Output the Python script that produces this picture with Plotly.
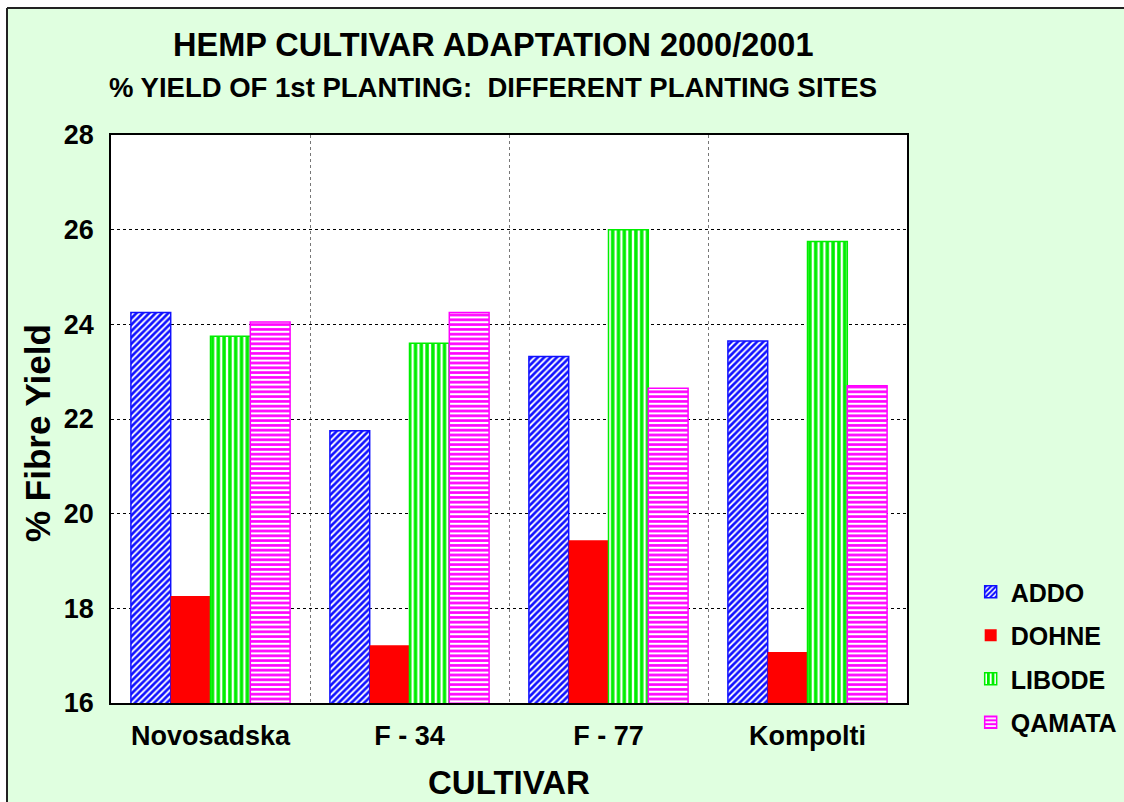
import plotly.graph_objects as go

cultivars = ["Novosadska", "F - 34", "F - 77", "Kompolti"]
addo = [24.25, 21.75, 23.32, 23.65]
dohne = [18.26, 17.22, 19.44, 17.08]
libode = [23.75, 23.60, 26.00, 25.75]
qamata = [24.05, 24.25, 22.65, 22.70]

y_ticks = [16, 18, 20, 22, 24, 26, 28]

FONT = "Liberation Sans, Arial, sans-serif"
BG = "#E0FFE0"

series = [
    ("ADDO", addo, "#1010FF", "/", 4.5, 0.6),
    ("DOHNE", dohne, "#FF0000", "", 6, 1.0),
    ("LIBODE", libode, "#00EE00", "|", 5.8, 0.6),
    ("QAMATA", qamata, "#FF00FF", "-", 4.8, 0.55),
]

fig = go.Figure()
for name, vals, col, shape, size, sol in series:
    if shape:
        marker = dict(color=col,
                      pattern=dict(shape=shape, fgcolor=col, bgcolor="white",
                                   size=size, solidity=sol, fillmode="replace"),
                      line=dict(color=col, width=1.5))
    else:
        marker = dict(color=col, line=dict(color=col, width=0))
    fig.add_trace(go.Bar(x=cultivars, y=vals, name=name, marker=marker,
                         legendgroup=name))

fig.update_layout(
    width=1124, height=802, autosize=False,
    paper_bgcolor=BG, plot_bgcolor="white",
    margin=dict(l=111, r=217, t=135, b=99, autoexpand=False),
    barmode="group", bargap=0.2, bargroupgap=0,
    font=dict(family=FONT, color="black"),
    showlegend=True,
    legend=dict(x=1.08, y=(703 - 569) / 568, xanchor="left", yanchor="top",
                bgcolor="rgba(0,0,0,0)", tracegroupgap=8,
                font=dict(size=25, family=FONT, color="black", weight="bold")),
)

fig.update_xaxes(
    type="category", tickson="boundaries", automargin=False,
    showgrid=True, gridcolor="#777777", griddash="dot", gridwidth=1,
    showline=True, linecolor="black", linewidth=2, mirror=True,
    ticks="", ticklabelstandoff=8,
    tickfont=dict(size=27, family=FONT, color="black", weight="bold"),
    title=dict(text="CULTIVAR", standoff=20,
               font=dict(size=33, family=FONT, color="black", weight="bold")),
)
fig.update_yaxes(
    range=[16, 28], tickvals=y_ticks, automargin=False,
    showgrid=True, gridcolor="black", griddash="dot", gridwidth=1,
    showline=True, linecolor="black", linewidth=1.5, mirror=True,
    ticks="", ticklabelstandoff=10, zeroline=False,
    tickfont=dict(size=27, family=FONT, color="black", weight="bold"),
)

def px_x(p):
    return (p - 111) / 796

def px_y(p):
    return (703 - p) / 568

# y-axis title (placed to match the reference's vertical offset)
fig.add_annotation(xref="paper", yref="paper", x=px_x(37), y=px_y(433),
                   text="% Fibre Yield", textangle=-90, showarrow=False,
                   xanchor="center", yanchor="middle",
                   font=dict(size=35, family=FONT, color="black", weight="bold"))

# titles
fig.add_annotation(xref="paper", yref="paper", x=0.48, y=px_y(45),
                   text="HEMP CULTIVAR ADAPTATION 2000/2001", showarrow=False,
                   xanchor="center", yanchor="middle",
                   font=dict(size=32.5, family=FONT, color="black", weight="bold"))
fig.add_annotation(xref="paper", yref="paper", x=0.48, y=px_y(88),
                   text="% YIELD OF 1st PLANTING:\u00a0 DIFFERENT PLANTING SITES",
                   showarrow=False, xanchor="center", yanchor="middle",
                   font=dict(size=27.5, family=FONT, color="black", weight="bold"))

# outer frame (white margin outside a dark border)
fig.add_shape(type="rect", xref="paper", yref="paper",
              x0=px_x(-20), x1=px_x(7), y0=px_y(830), y1=px_y(-20),
              fillcolor="white", line=dict(width=0))
fig.add_shape(type="rect", xref="paper", yref="paper",
              x0=px_x(-20), x1=px_x(1150), y0=px_y(8), y1=px_y(-20),
              fillcolor="white", line=dict(width=0))
fig.add_shape(type="line", xref="paper", yref="paper",
              x0=px_x(7), x1=px_x(7), y0=px_y(830), y1=px_y(8),
              line=dict(color="#222222", width=2))
fig.add_shape(type="line", xref="paper", yref="paper",
              x0=px_x(7), x1=px_x(1150), y0=px_y(8), y1=px_y(8),
              line=dict(color="#222222", width=2))

fig.write_html(
    "out.html",
    config={"displayModeBar": False},
    post_script="document.body.style.margin='0';document.body.style.overflow='hidden';",
)
